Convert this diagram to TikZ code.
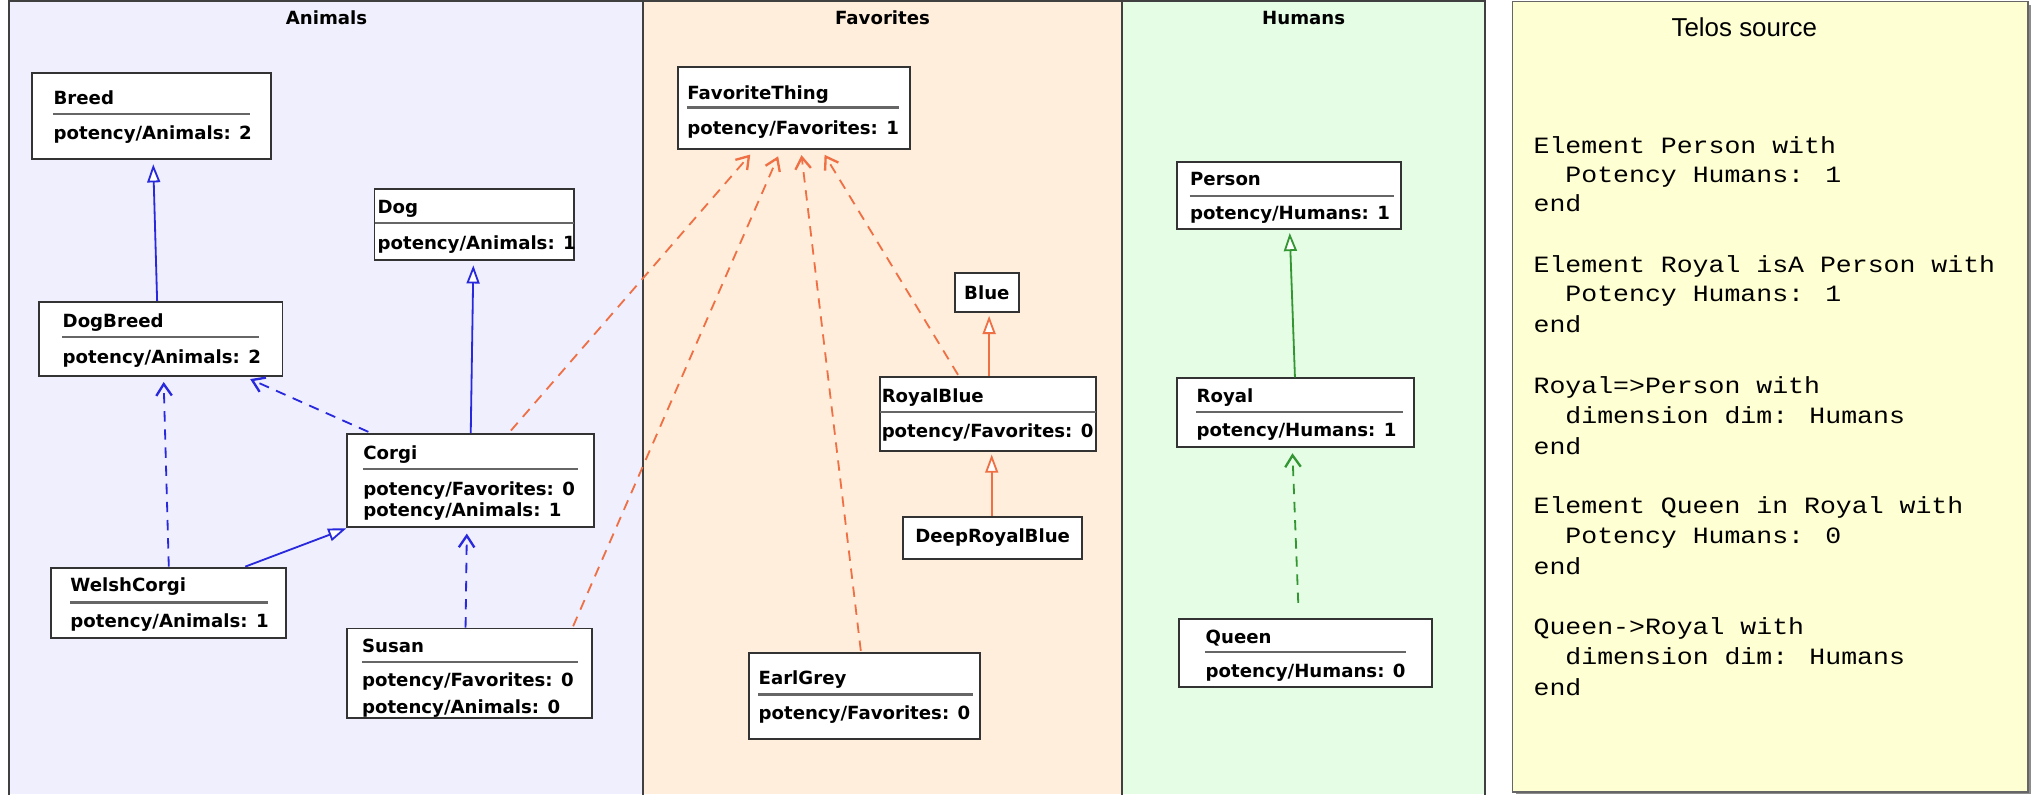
\documentclass[tikz,border=0pt]{standalone}
\usepackage{fontspec}
\setmainfont{DejaVu Sans}
\newfontfamily\telosfont{Liberation Mono}[FakeStretch=1.137]
\newfontfamily\labfont{Liberation Sans}
\usetikzlibrary{arrows.meta,calc,fit}
\definecolor{cAnim}{RGB}{239,239,253}
\definecolor{cFav}{RGB}{255,238,219}
\definecolor{cHum}{RGB}{228,253,228}
\definecolor{cTel}{RGB}{255,255,212}
\definecolor{cB}{RGB}{40,40,220}
\definecolor{cO}{RGB}{238,112,68}
\definecolor{cG}{RGB}{51,150,51}
\tikzset{
  panel/.style={draw=black!75, line width=0.8pt},
  box/.style={draw=black!80, line width=0.75pt, fill=white, inner sep=0pt},
  txt/.style={font=\bfseries\fontsize{7}{8}\selectfont, inner sep=0pt, anchor=mid west},
  ptitle/.style={font=\bfseries\fontsize{7}{8}\selectfont, inner sep=0pt},
  sepline/.style={draw=black!60, line width=0.9pt},
  tel/.style={font=\telosfont\fontsize{9}{10}\selectfont, inner sep=0pt, anchor=mid west},
  gen/.style={line width=0.7pt, -{Triangle[open, length=7pt, width=5pt, fill=white]}},
  inst/.style={line width=0.7pt, dash pattern=on 4pt off 3pt, -{Straight Barb[length=4.5pt, width=6pt, line width=0.9pt]}, shorten >=1pt}
}
\newcommand\cls[5]{\node[box, fit={(#2,#3)(#4,#5)}] (#1) {};}
\begin{document}
\begin{tikzpicture}[x=0.5pt, y=-0.5pt]
\useasboundingbox (0,0) rectangle (1568,613);
% panels
\fill[cAnim] (7,1) rectangle (496,613);
\fill[cFav] (496,1) rectangle (866,613);
\fill[cHum] (866,1) rectangle (1146,613);
\draw[panel] (7,616) -- (7,1) -- (1146,1) -- (1146,616);
\draw[panel] (496,1) -- (496,616);
\draw[panel] (866,1) -- (866,616);
\node[ptitle] (tAnim) at (252,14) {Animals};
\node[ptitle] (tFav) at (681,14) {Favorites};
\node[ptitle] (tHum) at (1006,14) {Humans};
% telos box
\fill[black!45] (1170,4) rectangle (1567,613);
\draw[fill=cTel, draw=black!60, line width=0.6pt] (1167,1) rectangle (1565,611);
\node[font=\labfont\fontsize{10}{12}\selectfont, inner sep=0pt] (tTel) at (1346,21) {Telos source};
\node[tel] (l1) at (1183,113) {Element Person with};
\node[tel] (l2) at (1183,135) {\ \ Potency Humans: 1};
\node[tel] (l3) at (1183,158) {end};
\node[tel] (l4) at (1183,205) {Element Royal isA Person with};
\node[tel] (l5) at (1183,227) {\ \ Potency Humans: 1};
\node[tel] (l6) at (1183,251) {end};
\node[tel] (l7) at (1183,298) {Royal=>Person with};
\node[tel] (l8) at (1183,321) {\ \ dimension dim: Humans};
\node[tel] (l9) at (1183,345) {end};
\node[tel] (l10) at (1183,391) {Element Queen in Royal with};
\node[tel] (l11) at (1183,414) {\ \ Potency Humans: 0};
\node[tel] (l12) at (1183,438) {end};
\node[tel] (l13) at (1183,484) {Queen->Royal with};
\node[tel] (l14) at (1183,507) {\ \ dimension dim: Humans};
\node[tel] (l15) at (1183,531) {end};
% Animals nodes
\cls{breed}{25}{56}{209}{123}
\node[txt] (breedT) at (41,75) {Breed};
\draw[sepline] (41,88) -- (193,88);
\node[txt] (breedA) at (41,102) {potency/Animals: 2};
\cls{dog}{289}{146}{443}{201}
\node[txt] (dogT) at (291,159) {Dog};
\draw[sepline] (289,172) -- (443,172);
\node[txt] (dogA) at (291,187) {potency/Animals: 1};
\cls{dogbreed}{30}{233}{218}{290}
\node[txt] (dogbreedT) at (48,247) {DogBreed};
\draw[sepline] (48,260) -- (200,260);
\node[txt] (dogbreedA) at (48,275) {potency/Animals: 2};
\cls{corgi}{268}{335}{458}{407}
\node[txt] (corgiT) at (280,349) {Corgi};
\draw[sepline] (280,362) -- (446,362);
\node[txt] (corgiA) at (280,377) {potency/Favorites: 0};
\node[txt] (corgiB) at (280,393) {potency/Animals: 1};
\cls{welsh}{39}{438}{221}{492}
\node[txt] (welshT) at (54,451) {WelshCorgi};
\draw[sepline] (54,465) -- (207,465);
\node[txt] (welshA) at (54,479) {potency/Animals: 1};
\cls{susan}{268}{485}{457}{554}
\node[txt] (susanT) at (279,498) {Susan};
\draw[sepline] (279,511) -- (446,511);
\node[txt] (susanA) at (279,524) {potency/Favorites: 0};
\node[txt] (susanB) at (279,545) {potency/Animals: 0};
% Favorites nodes
\cls{fav}{523}{52}{702}{115}
\node[txt] (favT) at (530,71) {FavoriteThing};
\draw[sepline] (530,83) -- (694,83);
\node[txt] (favA) at (530,98) {potency/Favorites: 1};
\cls{blue}{737}{211}{786}{241}
\node[ptitle] (blueT) at (761.5,226) {Blue};
\cls{rblue}{679}{291}{846}{348}
\node[txt] (rblueT) at (680,305) {RoyalBlue};
\draw[sepline] (679,318) -- (846,318);
\node[txt] (rblueA) at (680,332) {potency/Favorites: 0};
\cls{drblue}{697}{399}{835}{431}
\node[ptitle] (drblueT) at (766,415) {DeepRoyalBlue};
\cls{earl}{578}{504}{756}{570}
\node[txt] (earlT) at (585,523) {EarlGrey};
\draw[sepline] (585,536) -- (751,536);
\node[txt] (earlA) at (585,550) {potency/Favorites: 0};
% Humans nodes
\cls{person}{908}{125}{1081}{177}
\node[txt] (personT) at (918,138) {Person};
\draw[sepline] (918,151) -- (1076,151);
\node[txt] (personA) at (918,164) {potency/Humans: 1};
\cls{royal}{908}{292}{1091}{345}
\node[txt] (royalT) at (923,305) {Royal};
\draw[sepline] (923,318) -- (1083,318);
\node[txt] (royalA) at (923,331) {potency/Humans: 1};
\cls{queen}{910}{478}{1105}{530}
\node[txt] (queenT) at (930,491) {Queen};
\draw[sepline] (930,503) -- (1085,503);
\node[txt] (queenA) at (930,517) {potency/Humans: 0};
% Animals edges
\draw[gen, cB] ($(dogbreed.north west)+(92,0)$) -- ($(breed.south west)+(94,3)$);
\draw[gen, cB] ($(corgi.north west)+(96,0)$) -- ($(dog.south west)+(77,3)$);
\draw[inst, cB] ($(corgi.north west)+(17,-1)$) -- ($(dogbreed.south west)+(162,1)$);
\draw[inst, cB] ($(welsh.north west)+(92,0)$) -- ($(dogbreed.south west)+(97,2)$);
\draw[gen, cB] ($(welsh.north west)+(151,0)$) -- (corgi.south west);
\draw[inst, cB] ($(susan.north west)+(92,0)$) -- ($(corgi.south west)+(93,2)$);
% Favorites edges
\draw[inst, cO] ($(corgi.north west)+(127,-2)$) -- ($(fav.south west)+(58,2)$);
\draw[inst, cO] ($(susan.north west)+(175,-1)$) -- ($(fav.south west)+(79,3)$);
\draw[inst, cO] ($(earl.north west)+(87,-1)$) -- ($(fav.south west)+(96,2)$);
\draw[inst, cO] ($(rblue.north west)+(61,-1)$) -- ($(fav.south west)+(113,2)$);
\draw[gen, cO] ($(rblue.north west)+(85,0)$) -- ($(blue.south west)+(27,2)$);
\draw[gen, cO] ($(drblue.north west)+(69,0)$) -- ($(rblue.south west)+(87,2)$);
% Humans edges
\draw[gen, cG] ($(royal.north west)+(92,0)$) -- ($(person.south west)+(88,2)$);
\draw[inst, cG, shorten <=6pt] ($(queen.north west)+(93,0)$) -- ($(royal.south west)+(90,2)$);
\end{tikzpicture}
\end{document}
